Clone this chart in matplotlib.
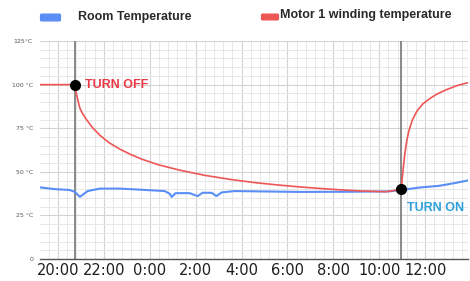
import numpy as np
import matplotlib
matplotlib.use('Agg')
import matplotlib.pyplot as plt
from matplotlib.patches import FancyBboxPatch
from matplotlib.ticker import MultipleLocator

# hours since 20:00
room_t = [-0.78, -0.13, 0.52, 0.74, 0.96, 1.30, 1.83, 2.70, 3.57, 4.65, 4.87, 4.96,
          5.13, 5.74, 6.09, 6.30, 6.70, 6.91, 7.13, 7.70, 8.78, 10.52, 12.70, 14.43,
          14.96, 15.74, 16.61, 17.26, 17.83]
room_temp = [41.1, 40.1, 39.6, 38.5, 35.7, 39.0, 40.4, 40.4, 39.8, 39.0, 37.5, 35.6,
             37.8, 37.8, 36.1, 38.0, 38.0, 36.1, 38.2, 39.0, 38.8, 38.5, 38.6, 38.8,
             39.6, 41.0, 42.0, 43.5, 45.0]

motor_t = [-0.78, 0.74, 0.78, 0.83, 0.90, 0.96, 1.05, 1.26, 1.50, 1.83, 2.20, 2.70,
           3.20, 3.65, 4.40, 5.30, 6.40, 7.60, 8.60, 9.65, 10.50, 11.40, 12.30, 13.30,
           14.30, 14.96, 15.00, 15.05, 15.12, 15.20, 15.30, 15.45, 15.65, 15.90, 16.20,
           16.50, 16.90, 17.40, 17.83]
motor_temp = [100, 100, 96.5, 93.5, 89.5, 86.5, 84, 79.7, 75.5, 71, 67, 63,
              59.8, 57.3, 54, 51, 48, 45.5, 43.8, 42.4, 41.4, 40.5, 39.7, 39.0,
              38.6, 40, 46, 53, 61, 68, 74, 80, 85, 89, 92,
              94.5, 97, 99.5, 101]

off_t, off_temp = 0.75, 100
on_t, on_temp = 14.96, 40

tick_pos = [0, 2, 4, 6, 8, 10, 12, 14, 16]
tick_lab = ['20:00', '22:00', '0:00', '2:00', '4:00', '6:00', '8:00', '10:00', '12:00']
ytick_pos = [0, 25, 50, 75, 100, 125]
ytick_lab = ['0', '25 °C', '50 °C', '75 °C', '100 °C', '125°C']

blue = '#5b8ef5'
red = '#ee5656'

fig = plt.figure(figsize=(4.7, 2.81), dpi=100)
ax = fig.add_axes([0.085, 0.078, 0.911, 0.776])

ax.set_xlim(-0.78, 17.87)
ax.set_ylim(0, 125)
ax.xaxis.set_minor_locator(MultipleLocator(0.4))
ax.yaxis.set_minor_locator(MultipleLocator(5))
ax.grid(which='minor', color='#e8e8e8', lw=0.7)
ax.grid(which='major', color='#d3d3d3', lw=0.8)
ax.set_axisbelow(True)

ax.plot(room_t, room_temp, color=blue, lw=1.5, zorder=3)
ax.plot(motor_t, motor_temp, color=red, lw=1.2, zorder=3)

ax.axvline(off_t, color='#808080', lw=1.3, zorder=2)
ax.axvline(on_t, color='#808080', lw=1.3, zorder=2)
ax.plot([off_t, on_t], [off_temp, on_temp], 'o', color='black', ms=7, zorder=4)

ax.text(off_t + 0.45, off_temp, 'TURN OFF', color='#ea3a46', fontsize=9,
        fontweight='bold', family='Liberation Sans', va='center')
ax.text(on_t + 0.25, on_temp - 11, 'TURN ON', color='#2fa0dc', fontsize=9,
        fontweight='bold', family='Liberation Sans', va='center')

ax.set_xticks(tick_pos)
ax.set_xticklabels(tick_lab, fontsize=10.5, color='#1e1e1e')
ax.set_yticks(ytick_pos)
ax.set_yticklabels(ytick_lab, fontsize=4.5, color='#555555')
ax.tick_params(which='both', length=0)
ax.tick_params(axis='x', pad=3)
ax.tick_params(axis='y', pad=5)
for s in ['left', 'top', 'right']:
    ax.spines[s].set_visible(False)
ax.spines['bottom'].set_color('#555555')
ax.spines['bottom'].set_linewidth(1.0)

# legend drawn at the top
fig.patches.append(FancyBboxPatch((42 / 470, 1 - 20 / 281), 17 / 470, 5 / 281,
                                  boxstyle='round,pad=0.003', color=blue,
                                  transform=fig.transFigure))
fig.text(78 / 470, 1 - 17 / 281, 'Room Temperature', fontsize=9, fontweight='bold',
         family='Liberation Sans', color='#2a2a2a', va='center')
fig.patches.append(FancyBboxPatch((263 / 470, 1 - 19 / 281), 14 / 470, 4 / 281,
                                  boxstyle='round,pad=0.003', color=red,
                                  transform=fig.transFigure))
fig.text(280 / 470, 1 - 15 / 281, 'Motor 1 winding temperature', fontsize=9,
         fontweight='bold', family='Liberation Sans', color='#2a2a2a', va='center')

fig.savefig('out.png', dpi=100)
